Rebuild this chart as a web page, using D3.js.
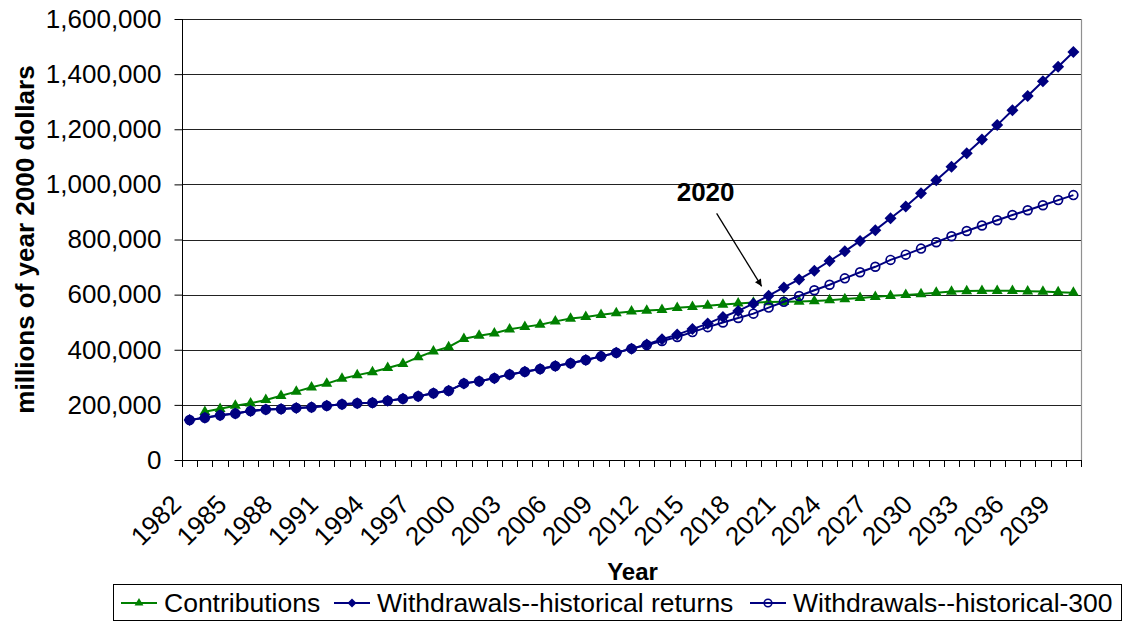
<!DOCTYPE html>
<html>
<head>
<meta charset="utf-8">
<script src="https://cdn.jsdelivr.net/npm/d3@7"></script>
<style>
  html, body { margin: 0; padding: 0; background: #fff; }
  svg { display: block; font-family: "Liberation Sans", Arial, sans-serif; }
</style>
</head>
<body>
<svg id="chart" width="1125" height="622"></svg>
<script>
// ---------- data ----------
const years = d3.range(1982, 2041);               // 1982 .. 2040
const yTicks = [0, 200000, 400000, 600000, 800000, 1000000, 1200000, 1400000, 1600000];
const xLabelStep = 3;

const contributions = [null,
  175000, 186000, 197000, 206000, 218000, 233000, 248000, 264000, 277000, 295000,
  308000, 319000, 334000, 349000, 373000, 394000, 410000, 440000, 451000, 460000,
  474000, 483000, 491000, 503000, 513000, 519000, 527000, 533000, 539000, 542000,
  545000, 552000, 556000, 560000, 564000, 568000, 571000, 573000, 574000, 575000,
  577000, 580000, 584000, 588000, 592000, 596000, 599000, 602000, 607000, 611000,
  613000, 614000, 614000, 614000, 612000, 611000, 609000, 607000];

const withdrawalsHist = [
  145000, 153000, 162000, 169000, 178000, 183000, 185000, 189000, 191000, 197000,
  202000, 206000, 208000, 215000, 222000, 231000, 242000, 251000, 278000, 286000,
  297000, 310000, 320000, 330000, 341000, 351000, 363000, 376000, 389000, 404000,
  419000, 438000, 455000, 475000, 495000, 519000, 541000, 567000, 596000, 626000,
  655000, 687000, 722000, 757000, 795000, 834000, 877000, 920000, 968000, 1015000,
  1064000, 1113000, 1163000, 1215000, 1269000, 1321000, 1374000, 1427000, 1480000];

const withdrawals300 = [
  145000, 153000, 162000, 169000, 178000, 183000, 185000, 189000, 191000, 197000,
  202000, 206000, 208000, 215000, 222000, 231000, 242000, 251000, 278000, 286000,
  297000, 310000, 320000, 330000, 341000, 351000, 363000, 376000, 389000, 404000,
  417000, 432000, 446000, 464000, 482000, 499000, 515000, 531000, 553000, 574000,
  595000, 616000, 636000, 659000, 681000, 701000, 726000, 745000, 767000, 790000,
  812000, 831000, 851000, 870000, 889000, 906000, 924000, 943000, 961000];

const seriesNames = ["Contributions", "Withdrawals--historical returns", "Withdrawals--historical-300"];
const seriesColors = ["#008000", "#000080", "#000080"];
const annotationYear = 2020;
const annotationValue = 630000;
const annotationText = "2020";

// ---------- layout ----------
const svg = d3.select("#chart");
const X0 = 182, X1 = 1081, Y0 = 19, Y1 = 460;

const x = d3.scaleBand().domain(years).range([X0, X1]).padding(0);
const bw = x.bandwidth();
const cx = yr => x(yr) + bw / 2;
const y = d3.scaleLinear().domain([0, 1600000]).range([Y1, Y0]);

// plot background
svg.append("rect").attr("x", X0).attr("y", Y0).attr("width", X1 - X0).attr("height", Y1 - Y0)
  .attr("fill", "#fff");

// gridlines
svg.append("g").selectAll("line").data(yTicks.filter(d => d > 0)).join("line")
  .attr("x1", X0).attr("x2", X1)
  .attr("y1", d => Math.round(y(d)) + 0.5).attr("y2", d => Math.round(y(d)) + 0.5)
  .attr("stroke", "#222").attr("stroke-width", 1);

// right border
svg.append("line").attr("x1", X1 + 0.5).attr("x2", X1 + 0.5).attr("y1", Y0).attr("y2", Y1)
  .attr("stroke", "#909090").attr("stroke-width", 1.2);

// y axis
const yAxis = d3.axisLeft(y).tickValues(yTicks).tickFormat(d3.format(",")).tickSize(8).tickPadding(13);
const gy = svg.append("g").attr("transform", `translate(${X0 + 0.5},0)`).call(yAxis);
gy.select(".domain").attr("stroke", "#000").attr("d", `M0,${Y0}V${Y1}`);
gy.selectAll(".tick line").attr("stroke", "#000");
gy.selectAll(".tick text").attr("font-size", 26).attr("fill", "#000")
  .attr("font-family", "'Liberation Sans', Arial, sans-serif");

// x axis
const gx = svg.append("g");
gx.append("line").attr("x1", X0).attr("x2", X1 + 1).attr("y1", Y1 + 0.5).attr("y2", Y1 + 0.5)
  .attr("stroke", "#000");
const boundaries = years.map(yr => x(yr)).concat([X1]);
gx.selectAll("line.tk").data(boundaries).join("line").attr("class", "tk")
  .attr("x1", d => Math.round(d) + 0.5).attr("x2", d => Math.round(d) + 0.5)
  .attr("y1", Y1).attr("y2", Y1 + 7).attr("stroke", "#000");
gx.selectAll("text").data(years.filter((yr, i) => i % xLabelStep === 0)).join("text")
  .attr("transform", yr => `translate(${cx(yr) - 7},${Y1 + 46}) rotate(-45)`)
  .attr("text-anchor", "end").attr("font-size", 26).attr("fill", "#000")
  .text(yr => yr);

// axis titles
svg.append("text").attr("transform", `translate(34,${(Y0 + Y1) / 2}) rotate(-90)`)
  .attr("text-anchor", "middle").attr("font-weight", "bold").attr("font-size", 26)
  .text("millions of year 2000 dollars");
svg.append("text").attr("x", (X0 + X1) / 2 + 1).attr("y", 580)
  .attr("text-anchor", "middle").attr("font-weight", "bold").attr("font-size", 24)
  .text("Year");

// ---------- series ----------
const diamondPath = "M0,-6L6,0L0,6L-6,0Z";
const triPath = d3.symbol(d3.symbolTriangle, 52)();
const circPath = d3.symbol(d3.symbolCircle, Math.PI * 4.4 * 4.4)();

function drawSeries(values, color, marker) {
  const pts = years.map((yr, i) => ({ yr, v: values[i] })).filter(p => p.v != null);
  const g = svg.append("g");
  g.append("path").datum(pts)
    .attr("d", d3.line().x(p => cx(p.yr)).y(p => y(p.v)))
    .attr("fill", "none").attr("stroke", color).attr("stroke-width", 2);
  const m = g.selectAll("path.m").data(pts).join("path").attr("class", "m")
    .attr("transform", p => `translate(${cx(p.yr)},${y(p.v)})`);
  if (marker === "triangle") m.attr("d", triPath).attr("fill", color);
  if (marker === "diamond") m.attr("d", diamondPath).attr("fill", color);
  if (marker === "circle") m.attr("d", circPath)
    .attr("fill", "none").attr("stroke", color).attr("stroke-width", 1.7);
}
drawSeries(contributions, seriesColors[0], "triangle");
drawSeries(withdrawalsHist, seriesColors[1], "diamond");
drawSeries(withdrawals300, seriesColors[2], "circle");

// ---------- annotation ----------
svg.append("defs").append("marker").attr("id", "arr")
  .attr("viewBox", "0 0 10 10").attr("refX", 10).attr("refY", 5)
  .attr("markerWidth", 9).attr("markerHeight", 7).attr("markerUnits", "userSpaceOnUse")
  .attr("orient", "auto")
  .append("path").attr("d", "M0,0L10,5L0,10Z").attr("fill", "#000");
const tipX = cx(annotationYear) - 7, tipY = y(annotationValue);
svg.append("line").attr("x1", tipX - 45).attr("y1", tipY - 73).attr("x2", tipX).attr("y2", tipY)
  .attr("stroke", "#000").attr("stroke-width", 1.3).attr("marker-end", "url(#arr)");
svg.append("text").attr("x", tipX - 56).attr("y", tipY - 85)
  .attr("text-anchor", "middle").attr("font-weight", "bold").attr("font-size", 26)
  .text(annotationText);

// ---------- legend ----------
const lg = svg.append("g");
lg.append("rect").attr("x", 113.5).attr("y", 584.5).attr("width", 1008).attr("height", 36)
  .attr("fill", "#fff").attr("stroke", "#000").attr("stroke-width", 1);
const legendItems = [
  { name: seriesNames[0], color: seriesColors[0], marker: "triangle", x0: 121 },
  { name: seriesNames[1], color: seriesColors[1], marker: "diamond", x0: 334 },
  { name: seriesNames[2], color: seriesColors[2], marker: "circle", x0: 750 }
];
legendItems.forEach(it => {
  const ly = 603;
  lg.append("line").attr("x1", it.x0).attr("x2", it.x0 + 36).attr("y1", ly).attr("y2", ly)
    .attr("stroke", it.color).attr("stroke-width", 2);
  const mk = lg.append("path").attr("transform", `translate(${it.x0 + 18},${ly})`);
  if (it.marker === "triangle") mk.attr("d", d3.symbol(d3.symbolTriangle, 34)()).attr("fill", it.color);
  if (it.marker === "diamond") mk.attr("d", "M0,-4.5L4.5,0L0,4.5L-4.5,0Z").attr("fill", it.color);
  if (it.marker === "circle") mk.attr("d", d3.symbol(d3.symbolCircle, Math.PI * 3.8 * 3.8)())
    .attr("fill", "none").attr("stroke", it.color).attr("stroke-width", 1.6);
  lg.append("text").attr("x", it.x0 + 43).attr("y", 612).attr("font-size", 26.5).attr("fill", "#000")
    .text(it.name);
});
</script>
</body>
</html>
